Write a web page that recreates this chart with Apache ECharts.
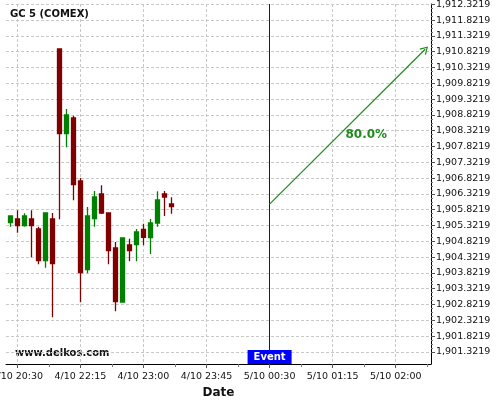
<!DOCTYPE html>
<html><head><meta charset="utf-8">
<script src="https://cdn.jsdelivr.net/npm/echarts@6/dist/echarts.min.js"></script>
<style>html,body{margin:0;padding:0;background:#fff}#c{width:500px;height:400px}</style>
</head><body><div id="c"></div>
<script>
const chartTitle = 'GC 5 (COMEX)';
const watermark = 'www.delkos.com';
const xAxisName = 'Date';
// 5-minute slots, candle index along the time axis
const candleIndex = [0,1,2,3,4,5,6,7,8,9,10,11,12,13,14,15,16,17,18,19,20,21,22,23];
const opens  = [1905.411,1905.528,1905.316,1905.528,1905.211,1904.208,1905.528,1910.907,1908.227,1908.724,1906.730,1903.923,1905.537,1906.319,1905.718,1904.610,1902.901,1904.705,1904.714,1905.202,1904.936,1905.401,1906.319,1906.002];
const closes = [1905.623,1905.316,1905.623,1905.316,1904.208,1905.718,1904.113,1908.227,1908.819,1906.613,1903.828,1905.623,1906.224,1905.718,1904.525,1902.911,1904.926,1904.525,1905.116,1904.949,1905.401,1906.129,1906.224,1905.917];
const lows   = [1905.284,1905.094,1905.284,1904.316,1904.094,1903.987,1902.417,1905.518,1907.797,1906.119,1902.892,1903.809,1905.284,1905.686,1904.094,1902.607,1902.879,1904.189,1904.189,1904.695,1904.420,1905.284,1905.623,1905.695];
const highs  = [1905.623,1905.803,1905.708,1905.803,1905.284,1905.718,1905.718,1910.907,1909.009,1908.797,1906.825,1905.907,1906.414,1906.594,1905.718,1904.800,1904.926,1904.904,1905.211,1905.379,1905.528,1906.404,1906.414,1906.214];

const xTickIndex  = [1,10,19,28,37,46,55];
const xTickLabels = ['4/10 20:30','4/10 22:15','4/10 23:00','4/10 23:45','5/10 00:30','5/10 01:15','5/10 02:00'];
const xMinorTickIndex = [5.5,14.5,23.5,32.5,41.5,50.5,59.5];
const yTicks = [1901.3219,1901.8219,1902.3219,1902.8219,1903.3219,1903.8219,1904.3219,1904.8219,1905.3219,1905.8219,1906.3219,1906.8219,1907.3219,1907.8219,1908.3219,1908.8219,1909.3219,1909.8219,1910.3219,1910.8219,1911.3219,1911.8219,1912.3219];
const yMin = 1900.9386, yMax = 1912.3314;
const xMin = -0.61, xMax = 60.03;

const eventIndex = 37;
const eventLabel = 'Event';
const forecastStart = [37, 1906.0];
const forecastEnd = [59.2, 1910.9];
const forecastText = '80.0%';
const forecastTextAt = [50.8, 1908.19];

const yMinorTicks = [];
for (let i = 0; i < yTicks.length - 1; i++) {
  for (let k = 1; k < 4; k++) yMinorTicks.push(+(yTicks[i] + k * 0.125).toFixed(4));
}
const fmtY = v => {
  const s = v.toFixed(4);
  const [a, b] = s.split('.');
  return a.replace(/\B(?=(\d{3})+(?!\d))/g, ',') + '.' + b;
};
const FONT = 'DejaVu Sans';
const gridLine = { show: true, lineStyle: { color: '#c8c8c8', type: [3, 2], width: 1 } };
const candles = candleIndex.map((x, i) => [x, opens[i], closes[i], lows[i], highs[i]]);

const chart = echarts.init(document.getElementById('c'), null, { renderer: 'canvas' });
chart.setOption({
  animation: false,
  backgroundColor: '#ffffff',
  title: { text: chartTitle, left: 10, top: 9, padding: 0,
    textStyle: { fontFamily: FONT, fontSize: 10, fontWeight: 'bold', color: '#111' } },
  graphic: [{ type: 'text', left: 15, top: 348,
    style: { text: watermark, font: 'bold 10px "DejaVu Sans"', fill: '#111' } }],
  grid: { left: 6, right: 69, top: 4, bottom: 36, containLabel: false, outerBoundsMode: 'none' },
  xAxis: [{
    type: 'value', min: xMin, max: xMax, position: 'bottom',
    name: xAxisName, nameLocation: 'middle', nameGap: 18,
    nameTextStyle: { fontFamily: FONT, fontSize: 12, fontWeight: 'bold', color: '#111' },
    axisLine: { show: true, onZero: false, lineStyle: { color: '#000', width: 1 } },
    axisTick: { show: true, customValues: xTickIndex, length: 4, lineStyle: { color: '#555' } },
    axisLabel: { customValues: xTickIndex, margin: 8, fontFamily: FONT, fontSize: 9.5, color: '#111',
      formatter: v => xTickLabels[xTickIndex.indexOf(Math.round(v))] || '' },
    splitLine: gridLine
  }, {
    type: 'value', min: xMin, max: xMax, position: 'bottom',
    axisLine: { show: false, onZero: false },
    axisTick: { show: true, customValues: xMinorTickIndex, length: 3, lineStyle: { color: '#777' } },
    axisLabel: { show: false }, splitLine: { show: false }
  }],
  yAxis: [{
    type: 'value', min: yMin, max: yMax, position: 'right', scale: true,
    axisLine: { show: true, onZero: false, lineStyle: { color: '#000', width: 1 } },
    axisTick: { show: true, customValues: yTicks, length: 4, lineStyle: { color: '#555' } },
    axisLabel: { customValues: yTicks, margin: 5, fontFamily: FONT, fontSize: 9.5, color: '#111', formatter: fmtY },
    splitLine: gridLine
  }, {
    type: 'value', min: yMin, max: yMax, position: 'right', scale: true,
    axisLine: { show: false, onZero: false },
    axisTick: { show: true, customValues: yMinorTicks, length: 2, lineStyle: { color: '#777' } },
    axisLabel: { show: false }, splitLine: { show: false }
  }],
  series: [{
    type: 'candlestick',
    xAxisIndex: 0, yAxisIndex: 0,
    encode: { x: 0, y: [1, 2, 3, 4] },
    data: candles,
    barWidth: 4,
    itemStyle: { color: '#008000', color0: '#800000', borderColor: '#008000', borderColor0: '#800000', borderWidth: 1.3 },
    markLine: {
      silent: true, animation: false,
      data: [
        [{ xAxis: eventIndex, yAxis: yMin, symbol: 'none', lineStyle: { color: '#0000ff', width: 1, type: 'solid' }, label: { show: false } },
         { xAxis: eventIndex, yAxis: yMax, symbol: 'none' }],
        [{ coord: forecastStart, symbol: 'none', lineStyle: { color: '#1f8a1f', width: 1.2, type: 'solid' }, label: { show: false } },
         { coord: forecastEnd, symbol: 'path://M5,0 L10,9 L8.8,9.8 L5,2.6 L1.2,9.8 L0,9 Z', symbolSize: [9, 8] }]
      ]
    },
    markPoint: {
      silent: true, animation: false,
      data: [
        { coord: [eventIndex, yMin], symbol: 'rect', symbolSize: 0,
          label: { show: true, position: 'top', distance: 0, formatter: eventLabel,
            fontFamily: FONT, fontSize: 10, fontWeight: 'bold', color: '#fff',
            backgroundColor: '#0000ff', padding: [1, 6, 1, 6], lineHeight: 12 } },
        { coord: forecastTextAt, symbol: 'rect', symbolSize: 0,
          label: { show: true, position: 'inside', formatter: forecastText,
            fontFamily: FONT, fontSize: 12, fontWeight: 'bold', color: '#1f8a1f' } }
      ]
    }
  }]
});
</script></body></html>
